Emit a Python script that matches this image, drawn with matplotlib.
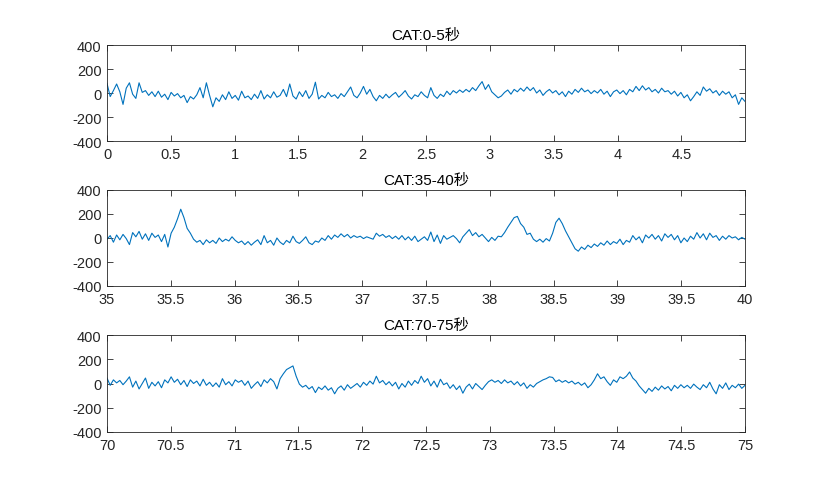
import numpy as np
import matplotlib
matplotlib.use("Agg")
import matplotlib.pyplot as plt

plt.rcParams['font.family'] = ['Liberation Sans', 'Noto Sans CJK SC', 'DejaVu Sans']
plt.rcParams['axes.unicode_minus'] = False

titles = ["CAT:0-5秒", "CAT:35-40秒", "CAT:70-75秒"]
starts = [0.0, 35.0, 70.0]
durations = [4.999, 5.0, 5.0]
xticks_list = [[0, 0.5, 1, 1.5, 2, 2.5, 3, 3.5, 4, 4.5],
               [35, 35.5, 36, 36.5, 37, 37.5, 38, 38.5, 39, 39.5, 40],
               [70, 70.5, 71, 71.5, 72, 72.5, 73, 73.5, 74, 74.5, 75]]
ylabels_vals = [-400, -200, 0, 200, 400]

seg1 = [80, -30, 20, 75, 10, -95, 40, 85, -10, -45,
        85, 5, 20, -20, 10, -30, 15, -35, -10, -55,
        5, -25, -5, -40, -20, -80, -30, -50, -15, 45,
        -40, 85, -20, -115, -40, -70, -15, -55, 10, -45,
        -20, -60, 15, -40, -25, -55, -10, -45, 20, -50,
        -15, -40, 10, -35, -20, 30, -30, 75, -25, -50,
        10, -30, 20, -45, -10, 90, -50, -20, -40, 5,
        -30, -15, -45, -5, -30, 10, 50, -20, -40, 0,
        55, -10, 30, -30, -65, -20, -45, -10, -40, -15,
        5, -35, -10, 20, -25, -50, -15, -30, 10, -20,
        -40, 45, -20, -45, -10, -30, 15, -15, 20, 0,
        25, 5, 30, 10, 45, 20, 60, 95, 30, 70,
        10, -15, -40, -25, 5, 25, -10, 30, 10, 40,
        15, 50, 20, 45, 0, 25, -20, 10, 30, 0,
        20, -15, 10, -30, 15, -10, 30, 5, 40, 10,
        25, -5, 20, 0, 30, -10, 15, -30, 10, 25,
        -5, 20, -15, 30, 10, 55, 20, 60, 25, 45,
        10, 30, 0, 40, 10, 20, -10, 15, -25, 5,
        -40, -15, -65, -30, 10, -20, 50, 15, 35, 0,
        20, -20, 15, -10, 10, -40, -15, -95, -40, -70]

seg2 = [-10, 20, -35, 25, -15, 30, -5, -55, 45, 10,
        55, -10, 35, -20, 40, 5, 25, -30, 30, -75,
        40, 90, 160, 240, 170, 80, 40, -10, -35, -20,
        -55, -15, -40, -20, -45, 0, -30, -10, -25, 10,
        -20, -40, -25, -55, -30, -60, -35, -15, -55, 20,
        -40, -20, -60, 0, -35, -55, -20, -40, 15, -30,
        -45, -20, 10, -40, -55, -25, -35, 0, -20, 20,
        -10, 25, 5, 35, 10, 30, 0, 20, 5, 15,
        -5, 10, 0, -10, 40, 15, 30, 5, 20, -5,
        15, -10, 20, -15, 10, -20, 15, -30, -10, 10,
        -20, 50, -30, 25, -45, 20, -10, 5, 20, -5,
        -40, 10, 40, 70, 20, 45, 10, 30, 0, -30,
        5, -20, 15, 10, 45, 90, 130, 170, 180, 120,
        90, 30, 40, -10, -30, -10, -35, -5, -25, 40,
        130, 165, 120, 60, 10, -40, -90, -110, -75, -95,
        -60, -80, -50, -70, -40, -60, -25, -55, -30, -45,
        -10, -55, -20, -35, 20, -15, 10, -40, 25, 0,
        30, -10, 20, -25, 35, 5, 30, -15, 20, -40,
        0, -30, 15, -10, 45, 0, 35, -15, 40, 5,
        20, -20, 15, -10, 20, 0, 10, -15, 5, -10]

seg3 = [45, -15, 30, 5, 25, -10, 20, 55, -30, 20,
        -45, 0, 45, -40, 10, -20, 15, -35, 30, 5,
        55, 10, 35, -10, 25, -25, 30, 0, 20, -20,
        35, -15, 10, -25, 5, -30, 40, -10, 15, -20,
        30, 10, 25, -15, 20, -40, -10, 15, -25, 30,
        5, 40, 15, -45, 40, 80, 115, 130, 145, 60,
        -5, -30, -15, -45, -25, -75, -30, -50, -20, -55,
        -35, -85, -40, -20, -55, -10, -40, -20, 0, -30,
        10, -15, 20, -5, 60, 5, 25, -10, 15, -20,
        10, -45, 0, -30, 20, -15, 25, 0, 60, 10,
        40, -20, 20, -30, 35, -10, 5, -40, -10, -50,
        -20, -80, -30, -5, -45, 0, -25, -50, -15, 15,
        30, 10, 25, 0, 30, 5, 20, -10, 15, -20,
        5, -40, -10, -30, 0, 15, 30, 40, 55, 50,
        15, 30, 10, 25, 5, 20, -5, 10, -15, 5,
        -35, -10, 30, 80, 40, 55, 15, -15, 30, 10,
        55, 40, 60, 95, 45, 20, -20, -50, -80, -40,
        -65, -30, -55, -20, -45, -25, -60, -15, -40, -10,
        -35, -15, -40, -5, -30, -50, -10, -35, 10, -45,
        -85, -10, -40, 5, -50, -15, -35, -5, -40, -15]

series = [seg1, seg2, seg3]

W, H = 824, 485
fig = plt.figure(figsize=(W / 100, H / 100), dpi=100)
axis_col = '#262626'
line_col = '#0072BD'

boxes = [(107, 46, 745, 142), (107, 191, 745, 287), (107, 336, 745, 433)]

for k in range(3):
    l, t, r, b = boxes[k]
    ax = fig.add_axes([l / W, 1 - b / H, (r - l) / W, (b - t) / H])
    vals = np.array(series[k], dtype=float)
    tt = np.linspace(starts[k], starts[k] + durations[k], len(vals))
    ax.plot(tt, vals, color=line_col, lw=0.8)
    ax.set_xlim(starts[k], starts[k] + durations[k])
    ax.set_ylim(-400, 400)
    ax.set_xticks(xticks_list[k])
    ax.set_xticklabels([('%g' % v) for v in xticks_list[k]])
    ax.set_yticks(ylabels_vals)
    ax.set_yticklabels([('%d' % v) for v in ylabels_vals])
    ax.tick_params(direction='in', top=True, right=True, length=4,
                   width=0.6, colors=axis_col, labelsize=10.5, pad=4)
    for s in ax.spines.values():
        s.set_color(axis_col)
        s.set_linewidth(0.6)
    ax.set_title(titles[k], fontsize=11, color='black', pad=4)

fig.savefig("out.png", dpi=100)
